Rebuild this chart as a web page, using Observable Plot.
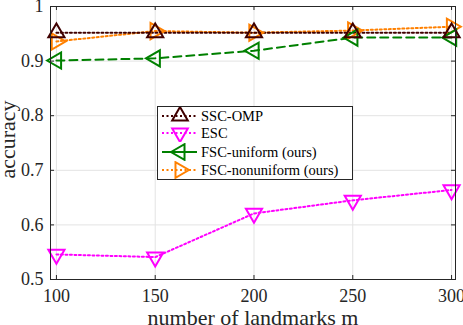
<!DOCTYPE html>
<html><head><meta charset="utf-8">
<script src="https://cdn.jsdelivr.net/npm/d3@7"></script>
<script src="https://cdn.jsdelivr.net/npm/@observablehq/plot@0.6"></script>
<style>
body{margin:0;background:#fff;}
#wrap{position:relative;width:463px;height:325px;}
#legend{position:absolute;left:157px;top:106px;width:194px;height:72px;background:#fff;border:1px solid #262626;font-family:"Liberation Serif",serif;font-size:14.5px;color:#000;}
.row{position:absolute;left:0;height:18px;width:100%;}
.row svg{position:absolute;left:0;top:0;}
.row span{position:absolute;left:43px;top:0;line-height:18px;white-space:nowrap;font-family:"Liberation Serif",serif;}
</style>
</head><body>
<div id="wrap"></div>
<script>
const landmarks = [100, 150, 200, 250, 300];
const sscOmp = [0.952, 0.952, 0.952, 0.952, 0.952];
const esc = [0.546, 0.541, 0.621, 0.645, 0.664];
const fscUniform = [0.901, 0.905, 0.919, 0.943, 0.943];
const fscNonuniform = [0.936, 0.955, 0.952, 0.956, 0.963];
const seriesNames = ["SSC-OMP", "ESC", "FSC-uniform (ours)", "FSC-nonuniform (ours)"];
const seriesColors = ["#400000", "#ff00ff", "#008000", "#ff8000"];
const seriesDash = ["2,2.5", "2,2.5", "8,5", "2,2.5"];
const seriesRotate = [0, 180, -90, 90];
const xTicks = [100, 150, 200, 250, 300];
const yTicks = [0.5, 0.6, 0.7, 0.8, 0.9, 1];
const xLabel = "number of landmarks m";
const yLabel = "accuracy";

const allValues = [sscOmp, esc, fscUniform, fscNonuniform];
const data = [];
allValues.forEach((vals, s) => vals.forEach((v, i) => data.push({s, x: landmarks[i], y: v})));

const xDom = [97, 302], yDom = [0.5, 1];
const tx = (xDom[1]-xDom[0]) * 4/405, ty = (yDom[1]-yDom[0]) * 4/273;

const marks = [
  Plot.ruleX(xTicks, {x: d => d, stroke: "#e3e3e3", strokeWidth: 1}),
  Plot.ruleY(yTicks, {y: d => d, stroke: "#e3e3e3", strokeWidth: 1}),
];
[3, 2, 0, 1].forEach(s => {
  const d = data.filter(p => p.s === s);
  marks.push(Plot.line(d, {x: "x", y: "y", stroke: seriesColors[s], strokeWidth: 2, strokeDasharray: seriesDash[s]}));
});
[3, 2, 0, 1].forEach(s => {
  const d = data.filter(p => p.s === s);
  marks.push(Plot.dot(d, {x: "x", y: "y", symbol: "triangle", r: 6, rotate: seriesRotate[s], stroke: seriesColors[s], strokeWidth: 2, fill: "none"}));
});
marks.push(
  Plot.ruleX(xTicks, {x: d => d, y1: yDom[0], y2: yDom[0] + ty, stroke: "#262626"}),
  Plot.ruleX(xTicks, {x: d => d, y1: yDom[1], y2: yDom[1] - ty, stroke: "#262626"}),
  Plot.ruleY(yTicks, {y: d => d, x1: xDom[0], x2: xDom[0] + tx, stroke: "#262626"}),
  Plot.ruleY(yTicks, {y: d => d, x1: xDom[1], x2: xDom[1] - tx, stroke: "#262626"}),
  Plot.frame({stroke: "#262626", strokeWidth: 1}),
  Plot.axisX({ticks: xTicks, tickSize: 0, tickPadding: 10, tickFormat: d => String(d), label: null, fontSize: 18, fill: "#262626"}),
  Plot.axisY({ticks: yTicks, tickSize: 0, tickPadding: 7, tickFormat: d => String(d), label: null, fontSize: 18, fill: "#262626"}),
  Plot.text([xLabel], {frameAnchor: "bottom", textAnchor: "middle", lineAnchor: "middle", dy: 38, text: d => d, fontSize: 22, fill: "#262626"}),
  Plot.text([yLabel], {frameAnchor: "left", textAnchor: "middle", lineAnchor: "middle", dx: -43, dy: -3.5, rotate: -90, text: d => d, fontSize: 22, fill: "#262626"})
);

const chart = Plot.plot({
  width: 463, height: 325,
  marginLeft: 50, marginRight: 8, marginTop: 6, marginBottom: 46,
  x: {domain: xDom, axis: null},
  y: {domain: yDom, axis: null},
  style: {fontFamily: "Liberation Serif, serif", background: "#fff", overflow: "visible"},
  marks
});
const wrap = document.getElementById("wrap");
wrap.appendChild(chart);

// legend
const legend = document.createElement("div");
legend.id = "legend";
const rowTops = [0, 17, 36, 54];
const triPath = d3.symbol(d3.symbolTriangle, Math.PI * 5.8 * 5.8)();
seriesNames.forEach((name, s) => {
  const row = document.createElement("div");
  row.className = "row";
  row.style.top = rowTops[s] + "px";
  const svg = d3.create("svg").attr("width", 42).attr("height", 18);
  svg.append("line").attr("x1", 4).attr("x2", 39).attr("y1", 9).attr("y2", 9)
    .attr("stroke", seriesColors[s]).attr("stroke-width", 2)
    .attr("stroke-dasharray", s === 2 ? null : seriesDash[s]);
  svg.append("path").attr("d", triPath).attr("transform", `translate(22,9) rotate(${seriesRotate[s]})`)
    .attr("fill", "none").attr("stroke", seriesColors[s]).attr("stroke-width", 2);
  row.appendChild(svg.node());
  const sp = document.createElement("span");
  sp.textContent = name;
  row.appendChild(sp);
  legend.appendChild(row);
});
wrap.appendChild(legend);
</script>
</body></html>
